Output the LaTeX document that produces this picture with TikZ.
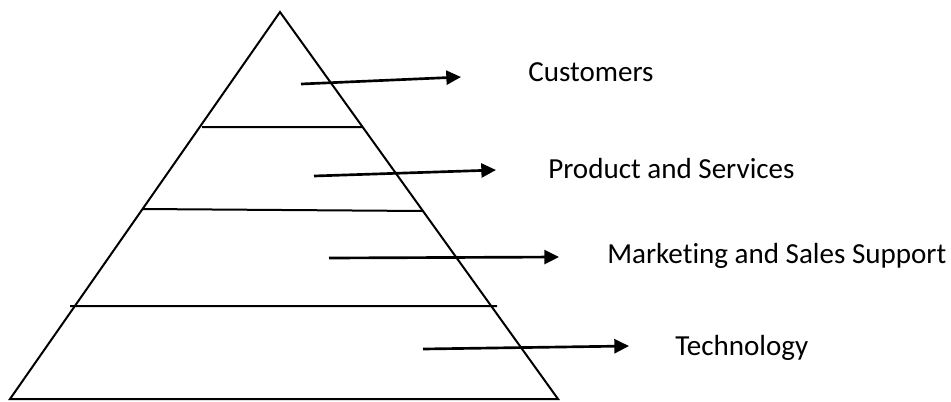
\documentclass[tikz,border=0pt]{standalone}
\usepackage{fontspec}
\setmainfont{Carlito}[Ligatures=NoCommon]
\usetikzlibrary{arrows.meta, positioning}

\begin{document}
\begin{tikzpicture}[x=0.75pt,y=-0.75pt,
    layer/.style={line width=1.5pt},
    pointer/.style={line width=2pt,-{Triangle[length=11pt,width=10.5pt]}},
    tag/.style={anchor=base west,inner sep=0pt,font=\fontsize{21.8}{26}\selectfont}]
    \useasboundingbox (0,0) rectangle (951,401);
    % the pyramid and its three bands
    \draw[layer] (280,12) coordinate(apex) -- (558,399) coordinate(br) -- (10,399) coordinate(bl) -- cycle;
    \draw[layer] (202,127)--(362,127) (143,209)--(423,211) (70,306)--(497,306);
    % arrows out of each level
    \foreach \i/\a/\b in {0/{301,84}/{461,77}, 1/{314,176}/{496,170}, 2/{329,258}/{559,257}, 3/{423,349}/{629,346}}{
        \coordinate (s\i) at (\a);
        \coordinate (e\i) at (\b);
        \draw[pointer] (s\i) -- (e\i);
    }
    \node[tag] (cust) at (528,81) {Customers};
    \node[tag] (prod) at (548,178) {Product and Services};
    \node[tag] (mark) at (607,263) {Marketing and Sales Support};
    \node[tag] (tech) at (675,355) {Technology};
\end{tikzpicture}
\end{document}
